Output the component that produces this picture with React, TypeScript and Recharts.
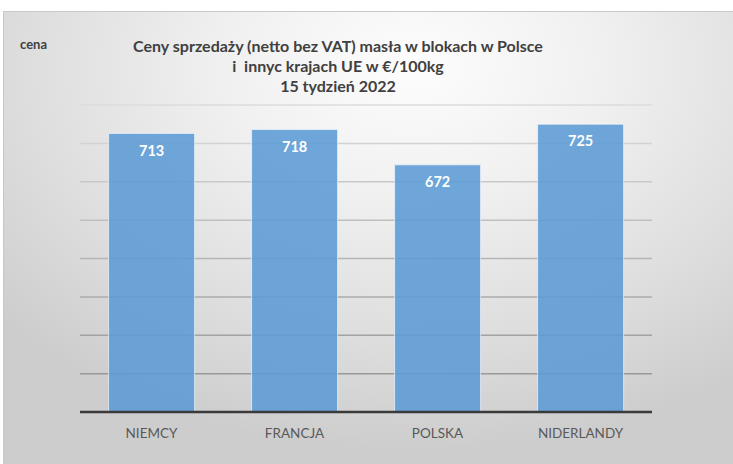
import React from "react";
import { BarChart, Bar, XAxis, YAxis, CartesianGrid, LabelList } from "recharts";

const countries = ["NIEMCY", "FRANCJA", "POLSKA", "NIDERLANDY"];
const prices = [713, 718, 672, 725];
const yTicks = [350, 400, 450, 500, 550, 600, 650, 700, 750];

const titleLines = [
  "Ceny sprzedaży (netto bez VAT) masła w blokach w Polsce",
  "i  innyc krajach UE w €/100kg",
  "15 tydzień 2022",
];

const data = countries.map((name, i) => ({ name, cena: prices[i] }));

const FONT = "Lato, 'Open Sans', sans-serif";

export default function App() {
  return (
    <div
      style={{
        position: "absolute",
        left: 0,
        top: 0,
        width: 733,
        height: 464,
        background: "#ffffff",
        overflow: "hidden",
        fontFamily: FONT,
      }}
    >
      <div
        style={{
          position: "absolute",
          left: 3,
          top: 11,
          width: 730,
          height: 453,
          borderLeft: "1px solid #c8c8c8",
          borderTop: "1px solid #c8c8c8",
          boxSizing: "border-box",
          background:
            "radial-gradient(ellipse 75% 85% at 56% 12%, #fdfdfd 0%, #f0f0f0 35%, #dedede 70%, #cdcdcd 100%)",
        }}
      >
        <div
          style={{
            position: "absolute",
            left: 16,
            top: 24,
            fontSize: 13,
            fontWeight: 700,
            color: "#404040",
          }}
        >
          cena
        </div>
        <div
          style={{
            position: "absolute",
            left: 84,
            width: 500,
            top: 24,
            textAlign: "center",
            fontSize: 16,
            lineHeight: "20px",
            fontWeight: 700,
            color: "#404040",
          }}
        >
          {titleLines.map((t) => (
            <div key={t} style={{ whiteSpace: "pre" }}>
              {t}
            </div>
          ))}
        </div>
        <div style={{ position: "absolute", left: 0, top: 0 }}>
          <BarChart
            width={730}
            height={453}
            data={data}
            margin={{ top: 93, right: 82, left: 76, bottom: 0 }}
            barCategoryGap="20%"
          >
            <defs>
              <linearGradient id="gridFade" gradientUnits="userSpaceOnUse" x1="0" y1="93" x2="0" y2="400">
                <stop offset="0%" stopColor="#dcdcdc" />
                <stop offset="100%" stopColor="#8f8f8f" />
              </linearGradient>
            </defs>
            <CartesianGrid vertical={false} stroke="url(#gridFade)" strokeWidth={1.5} />
            <XAxis
              dataKey="name"
              height={53}
              axisLine={{ stroke: "#3a3a3a", strokeWidth: 2.5 }}
              tickLine={false}
              tick={{ fill: "#595959", fontSize: 13.5, fontFamily: FONT }}
              tickMargin={10}
            />
            <YAxis hide domain={[350, 750]} ticks={yTicks} />
            <Bar
              dataKey="cena"
              fill="#5b9bd5"
              fillOpacity={0.88}
              stroke="#ffffff"
              strokeOpacity={0.6}
              strokeWidth={1}
              isAnimationActive={false}
            >
              <LabelList
                dataKey="cena"
                position="insideTop"
                offset={12}
                fill="#ffffff"
                fontSize={14.5}
                fontWeight={700}
                fontFamily={FONT}
              />
            </Bar>
          </BarChart>
        </div>
      </div>
    </div>
  );
}
